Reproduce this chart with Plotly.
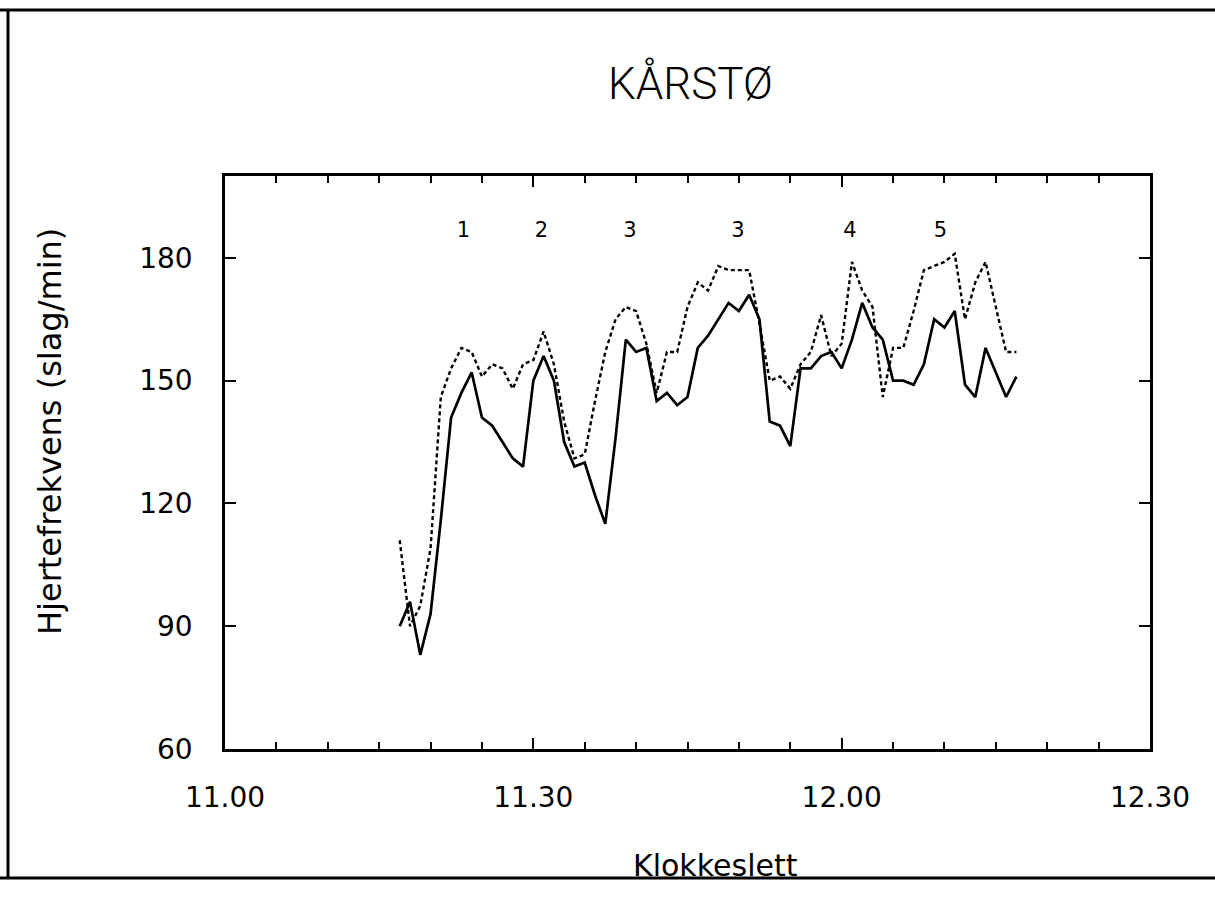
import plotly.graph_objects as go

# Minutter etter kl. 11.00
minutter = [17, 18, 19, 20, 21, 22, 23, 24, 25, 26,
            27, 28, 29, 30, 31, 32, 33, 34, 35, 36,
            37, 38, 39, 40, 41, 42, 43, 44, 45, 46,
            47, 48, 49, 50, 51, 52, 53, 54, 55, 56,
            57, 58, 59, 60, 61, 62, 63, 64, 65, 66,
            67, 68, 69, 70, 71, 72, 73, 74, 75, 76, 77]

# Hjertefrekvens, heltrukken kurve (slag/min)
puls_heltrukken = [90, 96, 83, 93, 116, 141, 147, 152, 141, 139,
                   135, 131, 129, 150, 156, 150, 135, 129, 130, 122,
                   115, 136, 160, 157, 158, 145, 147, 144, 146, 158,
                   161, 165, 169, 167, 171, 165, 140, 139, 134, 153,
                   153, 156, 157, 153, 160, 169, 163, 160, 150, 150,
                   149, 154, 165, 163, 167, 149, 146, 158, 152, 146, 151]

# Hjertefrekvens, stiplet kurve (slag/min)
puls_stiplet = [111, 90, 95, 109, 146, 153, 158, 157, 151, 154,
                153, 148, 154, 155, 162, 154, 140, 131, 132, 145,
                157, 165, 168, 167, 159, 147, 157, 157, 168, 174,
                172, 178, 177, 177, 177, 164, 150, 151, 148, 154,
                157, 166, 156, 159, 179, 172, 168, 146, 158, 158,
                167, 177, 178, 179, 181, 165, 174, 179, 168, 157, 157]

# Akser
tid_verdi = [0, 30, 60, 90]
tid_tekst = ["11.00", "11.30", "12.00", "12.30"]
puls_ticks = [60, 90, 120, 150, 180]

# Nummererte arbeidsfaser over kurvene
fase_tekst = ["1", "2", "3", "3", "4", "5"]
fase_min = [23.2, 30.8, 39.4, 49.9, 60.8, 69.6]
fase_puls = [186.5, 186.5, 186.5, 186.5, 186.5, 186.5]

# Plottområdet i piksler (venstre, høyre, topp, bunn)
PL, PR, PT, PB = 225, 1150, 176, 749
W, H = 1215, 914


def px_x(px):
    return (px - PL) / (PR - PL)


def px_y(py):
    return (PB - py) / (PB - PT)


fig = go.Figure()

fig.add_trace(go.Scatter(
    x=minutter, y=puls_stiplet, mode="lines",
    line=dict(color="black", width=2.4, dash="4px,3px"),
    hoverinfo="skip"))

fig.add_trace(go.Scatter(
    x=minutter, y=puls_heltrukken, mode="lines",
    line=dict(color="black", width=2.7),
    hoverinfo="skip"))

fig.add_trace(go.Scatter(
    x=fase_min, y=fase_puls, mode="text", text=fase_tekst,
    textfont=dict(family="DejaVu Sans", size=21, color="black"),
    hoverinfo="skip"))

tick_font = dict(family="DejaVu Sans", size=28, color="black")

fig.update_xaxes(
    range=[0, 90], tickvals=tid_verdi, ticktext=tid_tekst,
    ticks="inside", ticklen=11, tickwidth=2, tickcolor="black",
    minor=dict(dtick=5, ticks="inside", ticklen=7, tickwidth=2, tickcolor="black"),
    showline=True, linecolor="black", linewidth=2.6, mirror="ticks",
    showgrid=False, zeroline=False, tickfont=tick_font,
    ticklabelstandoff=22)

fig.update_yaxes(
    range=[60, 200], tickvals=puls_ticks,
    ticks="inside", ticklen=11, tickwidth=2, tickcolor="black",
    showline=True, linecolor="black", linewidth=2.6, mirror="ticks",
    showgrid=False, zeroline=False, tickfont=tick_font,
    ticklabelstandoff=24)

annotations = [
    dict(text="KÅRSTØ", x=px_x(690), y=px_y(84), xref="paper", yref="paper",
         showarrow=False, xanchor="center", yanchor="middle",
         font=dict(family="Roboto, Open Sans, sans-serif", weight=300,
                   size=44, color="black")),
    dict(text="Klokkeslett", x=px_x(715), y=px_y(865), xref="paper", yref="paper",
         showarrow=False, xanchor="center", yanchor="middle",
         font=dict(family="DejaVu Sans", size=30, color="black")),
    dict(text="Hjertefrekvens (slag/min)", x=px_x(50), y=px_y(432),
         xref="paper", yref="paper", textangle=-90,
         showarrow=False, xanchor="center", yanchor="middle",
         font=dict(family="DejaVu Sans", size=32, color="black")),
]

# Ytre ramme rundt figuren
frame = dict(color="black", width=3)
shapes = [
    dict(type="line", xref="paper", yref="paper",
         x0=px_x(0), x1=px_x(W), y0=px_y(10), y1=px_y(10), line=frame),
    dict(type="line", xref="paper", yref="paper",
         x0=px_x(8), x1=px_x(8), y0=px_y(10), y1=px_y(878), line=frame),
    dict(type="line", xref="paper", yref="paper",
         x0=px_x(0), x1=px_x(W), y0=px_y(878), y1=px_y(878), line=frame),
]

fig.update_layout(
    width=W, height=H,
    margin=dict(l=PL, r=W - PR, t=PT, b=H - PB),
    paper_bgcolor="white", plot_bgcolor="white",
    showlegend=False,
    annotations=annotations, shapes=shapes)

fig.write_html("out.html")
